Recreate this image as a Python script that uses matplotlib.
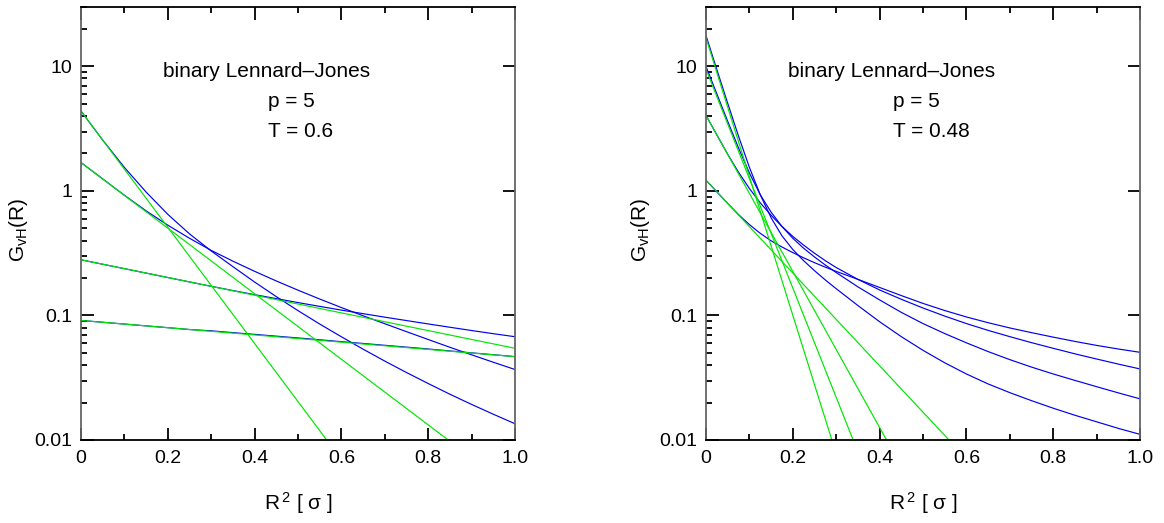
import numpy as np
import matplotlib
matplotlib.use("Agg")
import matplotlib.pyplot as plt
from matplotlib.ticker import LogLocator, FixedLocator, NullFormatter

plt.rcParams['font.family'] = ['Liberation Sans', 'DejaVu Sans']
plt.rcParams['mathtext.fontset'] = 'custom'
plt.rcParams['mathtext.rm'] = 'Liberation Sans'

# ---- left panel, T = 0.6 ----
x_left = [0, 0.05, 0.1, 0.15, 0.2, 0.25, 0.3, 0.35, 0.4, 0.45, 0.5,
          0.55, 0.6, 0.65, 0.7, 0.75, 0.8, 0.85, 0.9, 0.95, 1.0]
blue_left = [
    [4.375, 2.562, 1.543, 0.9795, 0.6486, 0.4519, 0.3296, 0.2466, 0.1855, 0.1416, 0.1093,
     0.0853, 0.0674, 0.0536, 0.0430, 0.0348, 0.0284, 0.0233, 0.0193, 0.0161, 0.0135],
    [1.690, 1.249, 0.9226, 0.6918, 0.5309, 0.4169, 0.3331, 0.2729, 0.2262, 0.1892, 0.1596,
     0.1355, 0.1157, 0.0994, 0.0858, 0.0741, 0.0641, 0.0555, 0.0483, 0.0421, 0.0368],
    [0.280, 0.2578, 0.2376, 0.2189, 0.2017, 0.1859, 0.1714, 0.1585, 0.1469, 0.1365, 0.1269,
     0.1183, 0.1104, 0.1034, 0.0969, 0.0910, 0.0855, 0.0804, 0.0757, 0.0714, 0.0675],
    [0.0912, 0.0882, 0.0853, 0.0825, 0.0798, 0.0771, 0.0753, 0.0728, 0.0705, 0.0682, 0.0660,
     0.0638, 0.0616, 0.0596, 0.0576, 0.0557, 0.0538, 0.0519, 0.0501, 0.0484, 0.0467],
]
# gaussian approximations: (x at both ends), (y at both ends)
green_left = [
    ([0, 0.566], [4.38, 0.01]),
    ([0, 0.846], [1.69, 0.01]),
    ([0, 1.0], [0.28, 0.0545]),
    ([0, 1.0], [0.0912, 0.0467]),
]

# ---- right panel, T = 0.48 ----
x_right = [0, 0.025, 0.05, 0.075, 0.1, 0.125, 0.15, 0.175, 0.2, 0.225, 0.25, 0.275, 0.3,
           0.35, 0.4, 0.45, 0.5, 0.55, 0.6, 0.65, 0.7, 0.75, 0.8, 0.85, 0.9, 0.95, 1.0]
blue_right = [
    [17.74, 9.441, 5.070, 2.754, 1.549, 0.9333, 0.6095, 0.4365, 0.3388, 0.2754, 0.2291, 0.1928, 0.1641,
     0.1202, 0.0891, 0.0676, 0.0525, 0.0417, 0.0339, 0.0282, 0.0240, 0.0207, 0.0180, 0.0158, 0.0140, 0.0124, 0.0111],
    [10.0, 6.026, 3.631, 2.213, 1.396, 0.9333, 0.6761, 0.5188, 0.4169, 0.3467, 0.2951, 0.2541, 0.2213,
     0.1698, 0.1334, 0.1059, 0.0861, 0.0716, 0.0603, 0.0513, 0.0442, 0.0385, 0.0339, 0.0301, 0.0268, 0.0239, 0.0214],
    [4.046, 2.818, 1.972, 1.413, 1.047, 0.8035, 0.6383, 0.5188, 0.4315, 0.3673, 0.3162, 0.2754, 0.2427,
     0.1950, 0.1603, 0.1349, 0.1148, 0.0989, 0.0861, 0.0759, 0.0676, 0.0605, 0.0545, 0.0492, 0.0447, 0.0407, 0.0372],
    [1.219, 0.9840, 0.7943, 0.6457, 0.5370, 0.4571, 0.3981, 0.3548, 0.3199, 0.2904, 0.2655, 0.2443, 0.2259,
     0.1950, 0.1679, 0.1445, 0.1250, 0.1096, 0.0973, 0.0875, 0.0794, 0.0728, 0.0670, 0.0619, 0.0575, 0.0538, 0.0506],
]
green_right = [
    ([0, 0.29], [17.0, 0.01]),
    ([0, 0.339], [9.5, 0.01]),
    ([0, 0.416], [4.05, 0.01]),
    ([0, 0.56], [1.22, 0.01]),
]

x_ticks = [0, 0.2, 0.4, 0.6, 0.8, 1.0]
x_ticklabels = ['0', '0.2', '0.4', '0.6', '0.8', '1.0']
x_minor = [0.1, 0.3, 0.5, 0.7, 0.9]
y_ticks = [0.01, 0.1, 1, 10]
y_ticklabels = ['0.01', '0.1', '1', '10']

BLUE = '#0000ee'
GREEN = '#00e600'

fig = plt.figure(figsize=(11.64, 5.23), dpi=100)
ax_l = fig.add_axes([0.0696, 0.1587, 0.3729, 0.8279])
ax_r = fig.add_axes([0.6065, 0.1587, 0.3729, 0.8279])


def draw_panel(ax, xs, blues, greens, temp_label):
    for ys in blues:
        ax.plot(xs, ys, color=BLUE, lw=0.85)
    for gx, gy in greens:
        ax.plot(gx, gy, color=GREEN, lw=0.85)

    ax.set_yscale('log')
    ax.set_xlim(0, 1.0)
    ax.set_ylim(0.01, 30)

    ax.xaxis.set_major_locator(FixedLocator(x_ticks))
    ax.set_xticklabels(x_ticklabels)
    ax.xaxis.set_minor_locator(FixedLocator(x_minor))
    ax.yaxis.set_major_locator(FixedLocator(y_ticks))
    ax.set_yticklabels(y_ticklabels)
    ax.yaxis.set_minor_locator(LogLocator(base=10, subs=np.arange(2, 10)))
    ax.yaxis.set_minor_formatter(NullFormatter())

    ax.tick_params(which='both', direction='in', top=True, right=True,
                   labelsize=14, width=1.3, color='black')
    ax.tick_params(which='major', length=9)
    ax.tick_params(which='minor', length=4.5)
    ax.tick_params(axis='y', which='minor', right=False)
    ax.tick_params(axis='y', pad=6)
    ax.tick_params(axis='x', pad=7)

    for side in ['top', 'bottom']:
        ax.spines[side].set_linewidth(1.3)
        ax.spines[side].set_color('black')
    for side in ['left', 'right']:
        ax.spines[side].set_linewidth(1.3)
        ax.spines[side].set_color('0.4')

    ax.text(0.189, 0.85, 'binary Lennard\u2013Jones', transform=ax.transAxes,
            fontsize=15, ha='left', va='center')
    ax.text(0.431, 0.782, 'p = 5', transform=ax.transAxes,
            fontsize=15, ha='left', va='center')
    ax.text(0.431, 0.713, temp_label, transform=ax.transAxes,
            fontsize=15, ha='left', va='center')

    ax.set_xlabel(r'$\mathregular{R^{\,2}}$ [ ' + '\u03c3' + ' ]', fontsize=15)
    ax.xaxis.set_label_coords(0.5, -0.115)


draw_panel(ax_l, x_left, blue_left, green_left, 'T = 0.6')
draw_panel(ax_r, x_right, blue_right, green_right, 'T = 0.48')

ylabel = r'$\mathregular{G_{vH}(R)}$'
fig.text(18 / 1164, 1 - 230 / 523, ylabel, rotation=90, fontsize=15,
         ha='center', va='center')
fig.text(641 / 1164, 1 - 230 / 523, ylabel, rotation=90, fontsize=15,
         ha='center', va='center')

fig.savefig('out.png', dpi=100)
